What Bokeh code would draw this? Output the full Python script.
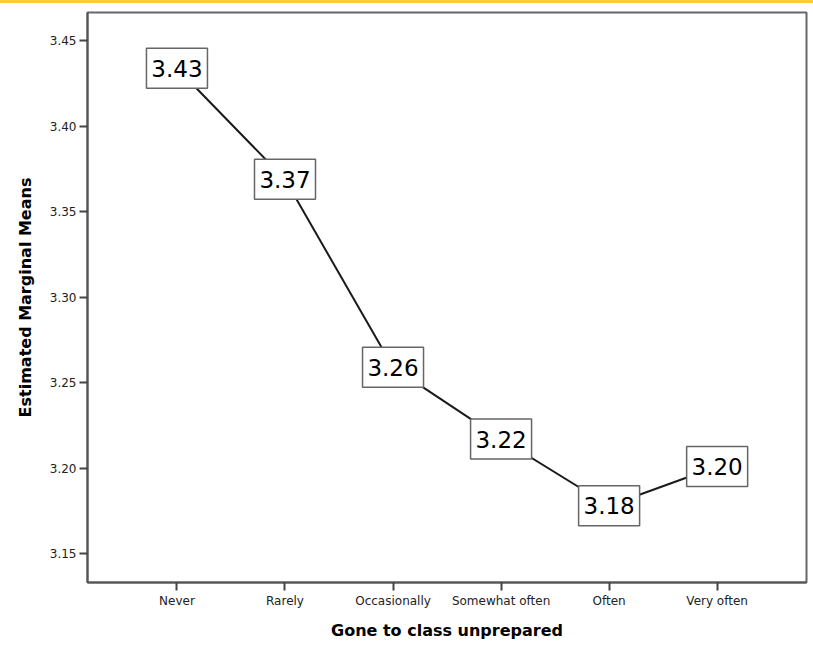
from bokeh.plotting import figure
from bokeh.models import ColumnDataSource, FixedTicker, PrintfTickFormatter, Range1d, Div
from bokeh.layouts import column
from bokeh.core.properties import value
from bokeh.embed import file_html
from bokeh.resources import INLINE

categories = ["Never", "Rarely", "Occasionally", "Somewhat often", "Often", "Very often"]
means = [3.434, 3.369, 3.259, 3.217, 3.178, 3.201]
y_ticks = [3.15, 3.20, 3.25, 3.30, 3.35, 3.40, 3.45]

xs = list(range(len(categories)))
labels = ["%.2f" % m for m in means]
src = ColumnDataSource(dict(x=xs, y=means, label=labels))

p = figure(width=808, height=645, output_backend="svg", toolbar_location=None,
           x_range=Range1d(-0.828, 5.827), y_range=Range1d(3.1331, 3.4666),
           min_border_left=87, min_border_right=2, min_border_top=9, min_border_bottom=66)
p.background_fill_color = "white"
p.border_fill_color = "white"
p.outline_line_color = "#666666"
p.outline_line_width = 2
p.xgrid.visible = False
p.ygrid.visible = False

FONT = "DejaVu Sans"

p.xaxis.ticker = FixedTicker(ticks=xs)
p.xaxis.major_label_overrides = {i: c for i, c in enumerate(categories)}
p.yaxis.ticker = FixedTicker(ticks=y_ticks)
p.yaxis.formatter = PrintfTickFormatter(format="%.2f")

for ax in (p.xaxis, p.yaxis):
    ax.axis_line_color = "#555555"
    ax.axis_line_width = 2
    ax.major_tick_line_color = "#444444"
    ax.major_tick_line_width = 2
    ax.major_tick_out = 8
    ax.major_tick_in = 0
    ax.minor_tick_line_color = None
    ax.major_label_text_font = FONT
    ax.major_label_text_font_size = "12px"
    ax.major_label_text_color = "#222222"
    ax.major_label_standoff = 3
    ax.axis_label_text_font = FONT
    ax.axis_label_text_font_size = "16px"
    ax.axis_label_text_font_style = "bold"
    ax.axis_label_text_color = "black"

p.xaxis.axis_label = "Gone to class unprepared"
p.xaxis.axis_label_standoff = 10
p.yaxis.axis_label = "Estimated Marginal Means"
p.yaxis.axis_label_standoff = 12

p.line("x", "y", source=src, line_color="#1a1a1a", line_width=2)
p.rect("x", "y", source=src, width=61, height=40, width_units="screen", height_units="screen",
       fill_color="white", line_color="#666666", line_width=1.5)
p.text("x", "y", text="label", source=src, text_font=value(FONT), text_font_size="23px",
       text_align="center", text_baseline="middle", text_color="black")

band = Div(text="", width=813, height=3, margin=0,
           styles={"background-color": "#ffcc33"})
layout = column(band, p, spacing=0)

open("out.html", "w").write(file_html(layout, INLINE))
